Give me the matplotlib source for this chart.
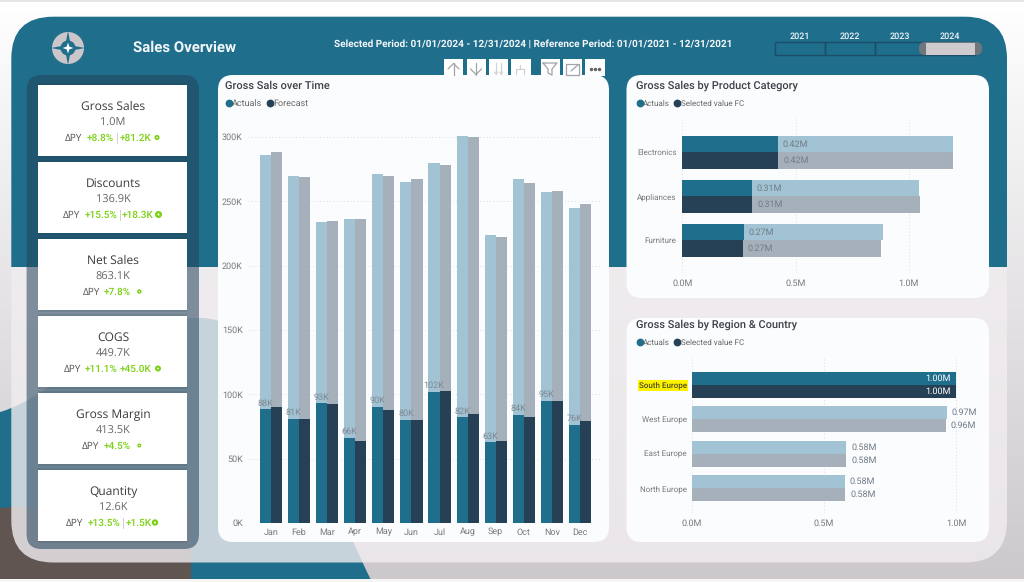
import numpy as np
import matplotlib
matplotlib.use("Agg")
import matplotlib.pyplot as plt
from matplotlib.patches import FancyBboxPatch, Rectangle, PathPatch, Circle
from matplotlib.path import Path
from matplotlib.lines import Line2D

plt.rcParams['font.family'] = ['Roboto', 'DejaVu Sans']
plt.rcParams['text.hinting'] = 'no_hinting'
plt.rcParams['text.hinting_factor'] = 1

# ---------- data ----------
months = ['Jan','Feb','Mar','Apr','May','Jun','Jul','Aug','Sep','Oct','Nov','Dec']
month_actual_total = [286,270,233.7,236.5,271,265,280,301,224,267,257.5,245]
month_fc_total     = [288,269,234.5,236,270,267,278,300,222.5,264,258,248]
month_actual_sel   = [88.3,80.6,93,66,90,80,101.6,82,62.7,84.3,95,76]
month_fc_sel       = [90,81,92.7,64,88,80,102.6,84.5,63.5,82,95,79]
month_ticks = [0,50,100,150,200,250,300]

products = ['Electronics','Appliances','Furniture']
prod_actual_total = [1.194,1.046,0.888]
prod_fc_total     = [1.197,1.051,0.879]
prod_actual_sel   = [0.421,0.306,0.271]
prod_fc_sel       = [0.424,0.309,0.268]

regions = ['South Europe','West Europe','East Europe','North Europe']
reg_actual = [1.00,0.966,0.585,0.580]
reg_fc     = [1.00,0.961,0.585,0.581]
reg_selected = [True,False,False,False]

kpi_names = ['Gross Sales','Discounts','Net Sales','COGS','Gross Margin','Quantity']
kpi_values = ['1.0M','136.9K','863.1K','449.7K','413.5K','12.6K']
kpi_pct = ['+8.8%','+15.5%','+7.8%','+11.1%','+4.5%','+13.5%']
kpi_abs = ['+81.2K','+18.3K','','+45.0K','','+1.5K']
years = ['2021','2022','2023','2024']

# ---------- styles ----------
TEAL='#1F6E8C'; NAVY='#264055'; LTEAL='#A2C3D3'; LGREY='#A6B0BA'
GREEN='#7BD114'; PANEL='#FBFCFE'; TXT='#7A7A7A'; HEAD='#3C4248'

W,H=1024,582
fig=plt.figure(figsize=(W/100,H/100),dpi=100)
bg=fig.add_axes([0,0,1,1],zorder=0)
bg.set_axis_off()

def grad(c0,c1,n=300):
    t=np.linspace(0,1,n)[:,None,None]
    return (1-t)*np.array(c0)[None,None,:]+t*np.array(c1)[None,None,:]

bg.imshow(grad((1,1,1),(0.80,0.785,0.80)),extent=(0,W,H,0),aspect='auto',zorder=0)
bg.set_xlim(0,W); bg.set_ylim(H,0)

# background shapes
blob=Path([(0,412),(60,395),(110,318),(200,318),(280,318),(316,470),(371,580),(371,582),(0,582),(0,412)],
          [Path.MOVETO,Path.CURVE4,Path.CURVE4,Path.CURVE4,Path.CURVE4,Path.CURVE4,Path.CURVE4,Path.LINETO,Path.LINETO,Path.CLOSEPOLY])
bg.add_patch(PathPatch(blob,fc=TEAL,ec='none',zorder=1))
bg.add_patch(PathPatch(Path([(0,508),(12,507),(191,507),(191,582),(0,582),(0,508)]),fc='#615552',ec='none',zorder=1.1))
bg.add_patch(Rectangle((0,578.5),W,4,fc='#F6F6F6',ec='none',zorder=1.2))
bg.add_patch(Rectangle((0,0),W,1.5,fc='#E6E6E6',ec='none',zorder=1.2))

def rbox(x0,y0,x1,y1,r,**kw):
    return FancyBboxPatch((x0+r,y0+r),x1-x0-2*r,y1-y0-2*r,boxstyle=f"round,pad={r},rounding_size={r}",**kw)

# main panel: translucent lower, teal upper
main=rbox(11.3,16.7,1007,562.5,42,fc='none',ec='none',zorder=2)
bg.add_patch(main)
low=Rectangle((0,266.5),W,H,fc='#F1EDF0',alpha=0.8,ec='none',zorder=2.1)
bg.add_patch(low); low.set_clip_path(main)
up=Rectangle((0,0),W,266.5,fc=TEAL,ec='none',zorder=2.2)
bg.add_patch(up); up.set_clip_path(main)

# KPI panel
bg.add_patch(rbox(26.6,75,199,549,15,fc='#23435A',alpha=0.555,ec='none',zorder=3))

# KPI cards
card_top=84.5; card_pitch=77.0; card_h=71.5
# x layout of delta row: delta, pct, separator, abs, dot, dot radius
row_x=[(65,87,117,120,157,2.6),(63,85,119.5,122,158.5,3.5),(82.5,103.7,None,None,139.3,2.2),
       (64,85,None,119.7,158,3),(82.3,103.7,None,None,139.3,2),(66,87.7,122.5,125.3,155,3.2)]
for i,name in enumerate(kpi_names):
    y=card_top+i*card_pitch
    bg.add_patch(Rectangle((38,y-1.5),149,card_h+3,fc='#1b3347',alpha=0.12,ec='none',zorder=3.1))
    bg.add_patch(Rectangle((38,y),149,card_h,fc='white',ec='none',zorder=3.2))
    bg.text(113,y+22.5,name,ha='center',va='center',family='Open Sans',fontsize=8.8,color='#3a3a3a',zorder=4)
    bg.text(113,y+38,kpi_values[i],ha='center',va='center',family='Open Sans',fontsize=8,color='#666666',zorder=4)
    dx,px,sx,ax_,dotx,dotr=row_x[i]
    yy=y+53.5
    bg.text(dx,yy,'ΔPY',ha='left',va='center',family='Open Sans',fontsize=7.0,color='#555555',zorder=4)
    bg.text(px,yy,kpi_pct[i],ha='left',va='center',fontsize=7.4,fontweight='medium',color=GREEN,zorder=4)
    if sx is not None:
        bg.plot([sx,sx],[yy-5,yy+5],color='#cfcfcf',lw=0.7,zorder=4)
    if ax_ is not None:
        bg.text(ax_,yy,kpi_abs[i],ha='left',va='center',fontsize=7.15,fontweight='medium',color=GREEN,zorder=4)
    bg.add_patch(Circle((dotx,yy-0.5),dotr,fc=GREEN,ec='none',zorder=4))
    bg.add_patch(Circle((dotx,yy-0.5),dotr*0.3,fc='white',ec='none',zorder=4.1))

# white chart panels
for x0,y0,x1,y1 in [(218,75,609,542),(626.5,75,989,298),(626.5,318,989,542)]:
    bg.add_patch(rbox(x0,y0,x1,y1,15,fc=PANEL,ec='none',zorder=3))

# header
bg.text(133,48,'Sales Overview',ha='left',va='center',fontsize=11.15,fontweight='bold',color='#F4F7F9',zorder=4)
bg.text(533,44,'Selected Period: 01/01/2024 - 12/31/2024 | Reference Period: 01/01/2021 - 12/31/2021',
        ha='center',va='center',fontsize=7.5,fontweight='bold',color='#F4F7F9',zorder=4)

# logo
cx,cy=68,48
bg.add_patch(Circle((cx,cy),16,fc='#CBC6CA',ec='none',zorder=4))
def star(r,k):
    a=r*k
    return Path([(cx,cy-r),(cx+a,cy-a),(cx+r,cy),(cx+a,cy+a),(cx,cy+r),(cx-a,cy+a),(cx-r,cy),(cx-a,cy-a),(cx,cy-r)])
bg.add_patch(PathPatch(star(17,0.16),fc=TEAL,ec='none',zorder=4.1))
bg.add_patch(Circle((cx,cy),7.5,fc=TEAL,ec='none',zorder=4.15))
bg.add_patch(PathPatch(star(5.5,0.25),fc='white',ec='none',zorder=4.2))

# year slicer
for i,yr in enumerate(years):
    xc=800+i*50
    bg.text(xc,36,yr,ha='center',va='center',fontsize=6.2,fontweight='medium',color='#F4F7F9',zorder=4)
    bg.add_patch(Rectangle((775+i*50,42.3),50,12.3,fc='none',ec='#1D4E68',lw=1,zorder=4))
bg.add_patch(rbox(919,42,982,55,6,fc='#6F767C',ec='none',zorder=4.2))
bg.add_patch(Rectangle((926,42.5),49,12,fc='#CFCACD',ec='none',zorder=4.3))

# visual toolbar
for x0,x1 in [(444,463),(467,486),(489,508),(511,531),(541,560),(563,582),(585,605)]:
    bg.add_patch(Rectangle((x0,59),x1-x0,16.5,fc='white',ec='none',zorder=2.9))
ic='#A0A4A8'
def ln(xs,ys,c=ic,lw=0.9):
    bg.plot(xs,ys,color=c,lw=lw,zorder=4,solid_capstyle='round')
ln([453.5,453.5],[63,75]); ln([448,453.5,459],[69,63.5,69])
ln([476,476],[63,75]); ln([470.5,476,481.5],[69,74.5,69])
for xx in (496,501):
    ln([xx,xx],[63,74],'#CFD2D5'); ln([xx-1.5,xx,xx+1.5],[72,74,72],'#CFD2D5')
ln([520,520],[65,69],'#CFD2D5'); ln([516,516,524,524],[74,69,69,74],'#CFD2D5')
ln([543,557,552,552,548,548,543],[63,63,69,75,73,69,63])
ln([566,566,572],[75,64,64]); ln([566,579],[75,75]); ln([573,579,579],[64,64,75]); ln([571,578],[71,65])
bg.plot([591,595,599],[68.5,68.5,68.5],ls='none',marker='o',ms=1.5,color='#666666',zorder=4)

def px_axes(l,t,r,b):
    return fig.add_axes([l/W,1-b/H,(r-l)/W,(b-t)/H],zorder=5,facecolor='none')

def style(ax,gridaxis):
    for s in ax.spines.values(): s.set_visible(False)
    ax.grid(axis=gridaxis,linestyle=(0,(1,2.5)),color='#D8DCE2',lw=0.7)
    ax.set_axisbelow(True)

def legend(ax,labels,x,y,size=6.3):
    hs=[Line2D([],[],ls='none',marker='o',ms=4.6,color=c) for c in (TEAL,NAVY)]
    ax.legend(hs,labels,loc='center left',bbox_to_anchor=(x,y),bbox_transform=bg.transData,ncol=2,frameon=False,
              borderpad=0,borderaxespad=0,handletextpad=-0.2,columnspacing=0.3,handlelength=1.15,
              labelcolor='#666666',prop={'size':size,'family':'Roboto'})

# ---- monthly chart ----
a1=px_axes(248,124.1,603,523)
x=np.arange(len(months)); w=0.395
a1.bar(x-w/2,month_actual_total,w,color=LTEAL)
a1.bar(x+w/2,month_fc_total,w,color=LGREY)
ba=a1.bar(x-w/2,month_actual_sel,w,color=TEAL)
a1.bar(x+w/2,month_fc_sel,w,color=NAVY)
a1.bar_label(ba,labels=[f'{v:.0f}K' for v in month_actual_sel],padding=1.5,fontsize=6.3,color='#7d8890')
a1.set_xlim(-0.819,11.82); a1.set_ylim(0,310)
a1.set_yticks(month_ticks,[f'{v}K' for v in month_ticks])
a1.set_xticks(x,months)
a1.tick_params(length=0,labelsize=6.2,labelcolor=TXT)
a1.tick_params(axis='y',pad=3.8); a1.tick_params(axis='x',pad=3.5)
style(a1,'y')
bg.text(225,85.5,'Gross Sals over Time',ha='left',va='center',fontsize=7.6,fontweight='medium',color=HEAD,zorder=6)
legend(a1,['Actuals','Forecast'],224,103.7)

# ---- product chart ----
a2=px_axes(682.3,118,965.3,273)
y=np.arange(len(products)); h=0.378
a2.barh(y-h/2,prod_actual_total,h,color=LTEAL)
a2.barh(y+h/2,prod_fc_total,h,color=LGREY)
a2.barh(y-h/2,prod_actual_sel,h,color=TEAL)
a2.barh(y+h/2,prod_fc_sel,h,color=NAVY)
for yi,va_,vf in zip(y,prod_actual_sel,prod_fc_sel):
    for yy,v in ((yi-h/2,va_),(yi+h/2,vf)):
        a2.annotate(f'{v:.2f}M',(v,yy),xytext=(3.5,0),textcoords='offset points',va='center',fontsize=6.2,color='#6f7c86')
a2.set_xlim(0,1.25); a2.set_ylim(2.743,-0.78)
a2.set_xticks([0,0.5,1.0],['0.0M','0.5M','1.0M']); a2.set_yticks(y,products)
a2.tick_params(length=0,labelsize=6.2,labelcolor=TXT)
a2.tick_params(axis='y',pad=4.2,labelsize=5.5); a2.tick_params(axis='x',pad=4.2)
style(a2,'x')
bg.text(636,85.5,'Gross Sales by Product Category',ha='left',va='center',fontsize=7.6,fontweight='medium',color=HEAD,zorder=6)
legend(a2,['Actuals','Selected value FC'],635,103.7,6.1)

# ---- region chart ----
a3=px_axes(692,358,988,513)
y=np.arange(len(regions)); h=0.378
colA=[TEAL if s else LTEAL for s in reg_selected]
colF=[NAVY if s else LGREY for s in reg_selected]
a3.barh(y-h/2,reg_actual,h,color=colA)
a3.barh(y+h/2,reg_fc,h,color=colF)
for yi,v1,v2,s in zip(y,reg_actual,reg_fc,reg_selected):
    for yy,v in ((yi-h/2,v1),(yi+h/2,v2)):
        if s:
            a3.annotate(f'{v:.2f}M',(v,yy),xytext=(-3.5,0),textcoords='offset points',va='center',ha='right',fontsize=6.2,color='white')
        else:
            a3.annotate(f'{v:.2f}M',(v,yy),xytext=(3.5,0),textcoords='offset points',va='center',fontsize=6.2,color='#6f7c86')
a3.set_xlim(0,296/264); a3.set_ylim(3.72,-0.77)
a3.set_xticks([0,0.5,1.0],['0.0M','0.5M','1.0M']); a3.set_yticks(y,regions)
a3.tick_params(length=0,labelsize=6.2,labelcolor=TXT)
a3.tick_params(axis='y',pad=3.6,labelsize=5.5); a3.tick_params(axis='x',pad=4.2)
style(a3,'x')
for lab,s in zip(a3.get_yticklabels(),reg_selected):
    if s:
        lab.set_color('#4a4a20'); lab.set_fontweight('medium')
        lab.set_bbox(dict(fc='#FFF200',ec='none',pad=1))
bg.text(636,325,'Gross Sales by Region & Country',ha='left',va='center',fontsize=7.6,fontweight='medium',color=HEAD,zorder=6)
legend(a3,['Actuals','Selected value FC'],635,343,6.1)

fig.savefig('out.png',dpi=100)
